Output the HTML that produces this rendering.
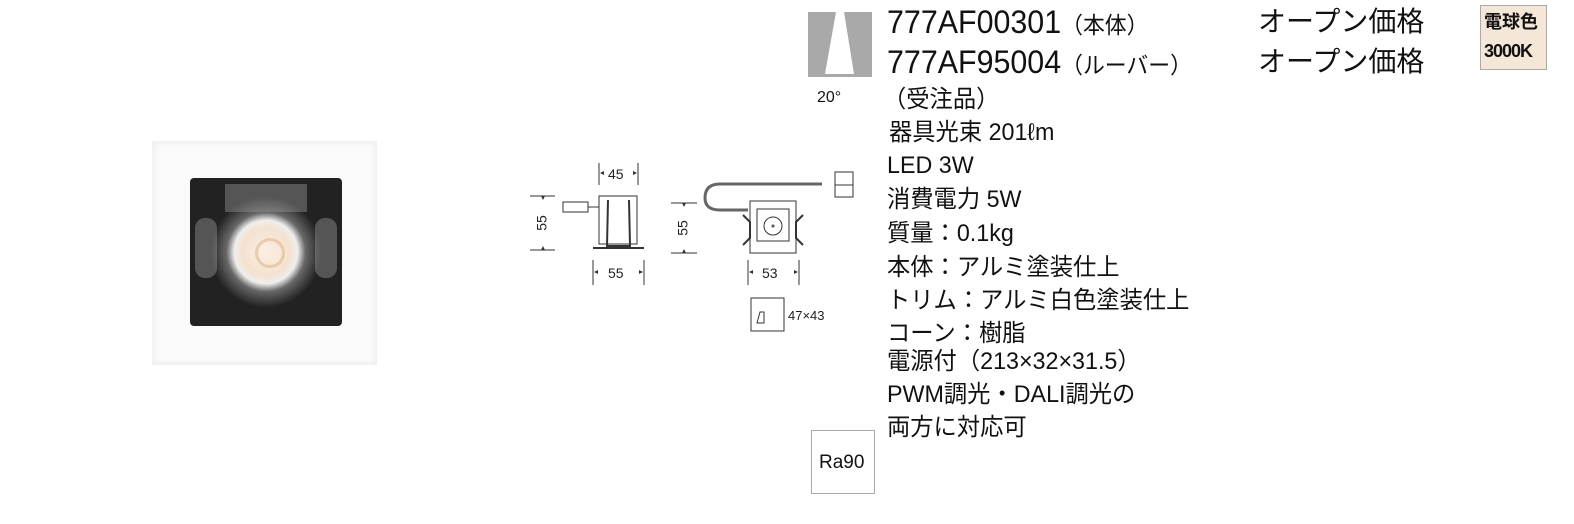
<!DOCTYPE html>
<html><head><meta charset="utf-8"><style>
body{margin:0;width:1574px;height:524px;background:#fff;position:relative;overflow:hidden;font-family:"Liberation Sans","Noto Sans CJK JP",sans-serif;color:#111}
.t{position:absolute;white-space:nowrap;line-height:1}
.big{font-size:32px;transform:scaleX(.95);transform-origin:0 0}
.mid{font-size:24px;transform:scaleX(.97);transform-origin:0 0}
</style></head><body>
<div style="position:absolute;left:152px;top:141px;width:225px;height:224px;background:#eee"></div>
<div style="position:absolute;left:157px;top:146px;width:215px;height:214px;background:#fafafa;box-shadow:0 0 6px 3px #fafafa"></div>
<div style="position:absolute;left:190px;top:178px;width:152px;height:148px;background:#222;border-radius:4px;overflow:hidden">
 <div style="position:absolute;left:35px;top:6px;width:82px;height:28px;background:#555"></div>
 <div style="position:absolute;left:5px;top:40px;width:22px;height:60px;background:#555;border-radius:10px"></div>
 <div style="position:absolute;left:125px;top:40px;width:22px;height:60px;background:#555;border-radius:10px"></div>
 <div style="position:absolute;left:20px;top:18px;width:112px;height:112px;border-radius:50%;background:radial-gradient(circle,#fbefe3 0,#f4e2cf 30%,#eee 40%,rgba(150,150,150,.6) 50%,rgba(40,40,40,0) 70%)"></div>
 <div style="position:absolute;left:65px;top:60px;width:24px;height:24px;border-radius:50%;border:3px solid #e0b890;opacity:.6"></div>
</div>
<svg style="position:absolute;left:0;top:0" width="1574" height="524">
<g stroke="#333" stroke-width="1" fill="none">
 <line x1="599" y1="163" x2="599" y2="185"/><line x1="638" y1="163" x2="638" y2="185"/>
 <line x1="530" y1="196" x2="555" y2="196"/><line x1="530" y1="250" x2="555" y2="250"/>
 <line x1="593" y1="260" x2="593" y2="285"/><line x1="644" y1="260" x2="644" y2="285"/>
 <rect x="563" y="202" width="25" height="10"/><line x1="588" y1="207" x2="599" y2="207"/>
 <rect x="599" y="196" width="38" height="48"/>
 <line x1="593" y1="248" x2="644" y2="248" stroke-width="2"/>
 <path d="M608 200 L607 246 L630 246 L629 200" stroke-width="2"/>
 <line x1="671" y1="203" x2="697" y2="203"/><line x1="671" y1="253" x2="697" y2="253"/>
 <line x1="748" y1="260" x2="748" y2="285"/><line x1="799" y1="260" x2="799" y2="285"/>
 <path d="M822 184 L720 184 Q705 184 705 198 Q705 210 720 210 L748 210" stroke="#666" stroke-width="3"/>
 <rect x="835" y="172" width="18" height="25" fill="#fff"/>
 <line x1="835" y1="185" x2="853" y2="185"/>
 <rect x="750" y="201" width="46" height="52" fill="#fff"/>
 <rect x="757" y="209" width="32" height="32"/>
 <circle cx="773" cy="226" r="9"/><circle cx="773" cy="226" r="1"/>
 <path d="M743 215 L750 222 L750 238 L743 245" stroke-width="2"/>
 <path d="M803 215 L796 222 L796 238 L803 245" stroke-width="2"/>
 <rect x="751" y="298" width="33" height="33"/>
 <path d="M757 323 L760 312 L764 312 L764 323 Z"/>
</g>
<g fill="#333">
 <path d="M600 173 l4 -2 v4z"/><path d="M637 173 l-4 -2 v4z"/>
 <path d="M543 200 l-2 -4 h4z"/><path d="M543 246 l-2 4 h4z"/>
 <path d="M594 272 l4 -2 v4z"/><path d="M643 272 l-4 -2 v4z"/>
 <path d="M684 207 l-2 -4 h4z"/><path d="M684 249 l-2 4 h4z"/>
 <path d="M749 272 l4 -2 v4z"/><path d="M798 272 l-4 -2 v4z"/>
</g>
<g font-family="Liberation Sans,sans-serif" font-size="14" fill="#222">
 <text x="608" y="179">45</text>
 <text x="543" y="223" transform="rotate(-90 543 223)" text-anchor="middle" dominant-baseline="middle">55</text>
 <text x="608" y="278">55</text>
 <text x="684" y="228" transform="rotate(-90 684 228)" text-anchor="middle" dominant-baseline="middle">55</text>
 <text x="762" y="278">53</text>
 <text x="788" y="320" font-size="13">47×43</text>
</g>
<rect x="808" y="12" width="64" height="65" fill="#a9a9a9"/>
<path d="M836 12 L844 12 L854 74 L825 74 Z" fill="#fff"/>
<rect x="811.5" y="430.5" width="63" height="63" fill="#fff" stroke="#aaa"/>
<rect x="1480.5" y="5.5" width="66" height="64" fill="#f4e7d7" stroke="#aaa"/>
</svg>
<div class="t" style="left:817px;top:90px;font-size:16px">20°</div>
<div class="t" style="left:819px;top:453px;font-size:19px">Ra90</div>
<div class="t" style="left:1484px;top:13px;font-size:18px;font-weight:bold">電球色</div>
<div class="t" style="left:1484px;top:42px;font-size:18px;font-weight:bold;letter-spacing:-1px">3000K</div>

<div class="t big" style="left:887px;top:6px">777AF00301<span style="font-size:23px">（本体）</span></div>
<div class="t big" style="left:887px;top:46px">777AF95004<span style="font-size:23px">（ルーバー）</span></div>
<div class="t" style="left:1258px;top:8px;font-size:28px">オープン価格</div>
<div class="t" style="left:1258px;top:48px;font-size:28px">オープン価格</div>
<div class="t mid" style="left:883px;top:88px">（受注品）</div>
<div class="t mid" style="left:889px;top:121px">器具光束 201ℓm</div>
<div class="t mid" style="left:887px;top:154px">LED 3W</div>
<div class="t mid" style="left:887px;top:188px">消費電力 5W</div>
<div class="t mid" style="left:887px;top:222px">質量：0.1kg</div>
<div class="t mid" style="left:887px;top:256px">本体：アルミ塗装仕上</div>
<div class="t mid" style="left:887px;top:289px">トリム：アルミ白色塗装仕上</div>
<div class="t mid" style="left:887px;top:322px">コーン：樹脂</div>
<div class="t mid" style="left:887px;top:350px">電源付（213×32×31.5）</div>
<div class="t mid" style="left:887px;top:383px">PWM調光・DALI調光の</div>
<div class="t mid" style="left:887px;top:416px">両方に対応可</div>
</body></html>
